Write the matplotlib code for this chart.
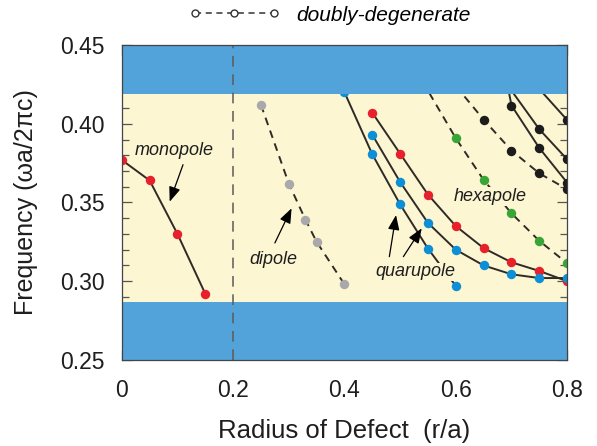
import matplotlib.pyplot as plt
from matplotlib.lines import Line2D

plt.rcParams['font.family'] = ['Liberation Sans', 'DejaVu Sans']

# band gap edges (blue = outside gap)
gap_lo = 0.2868
gap_hi = 0.419

# monopole (red, solid)
mono_x = [0.0, 0.05, 0.10, 0.15]
mono_y = [0.377, 0.364, 0.330, 0.292]

# dipole (gray, dashed)
dip_x = [0.25, 0.30, 0.33, 0.35, 0.40]
dip_y = [0.412, 0.362, 0.339, 0.325, 0.298]

# quadrupole branches
quad_red_x = [0.45, 0.50, 0.55, 0.60, 0.65, 0.70, 0.75, 0.80]
quad_red_y = [0.407, 0.381, 0.355, 0.335, 0.321, 0.312, 0.3065, 0.300]
quad_blue1_x = [0.45, 0.50, 0.55, 0.60, 0.65, 0.70, 0.75, 0.80]
quad_blue1_y = [0.393, 0.363, 0.337, 0.320, 0.310, 0.3044, 0.302, 0.302]
quad_blue2_x = [0.40, 0.45, 0.50, 0.55, 0.60]
quad_blue2_y = [0.420, 0.3806, 0.3488, 0.3207, 0.297]

# hexapole (green, dashed)
hex_x = [0.54, 0.60, 0.65, 0.70, 0.75, 0.80]
hex_y = [0.427, 0.3908, 0.3643, 0.3431, 0.3256, 0.3114]

# higher-order modes (black)
blk_dash_x = [0.60, 0.65, 0.70, 0.75, 0.80]
blk_dash_y = [0.424, 0.4026, 0.3830, 0.3685, 0.3584]
blk_s1_x = [0.69, 0.75, 0.80]
blk_s1_y = [0.426, 0.3965, 0.3774]
blk_s2_x = [0.69, 0.70, 0.75, 0.80]
blk_s2_y = [0.430, 0.4116, 0.3846, 0.3626]
blk_s3_x = [0.74, 0.80]
blk_s3_y = [0.426, 0.4024]

c_red = '#e8202b'
c_blue = '#0c8fd6'
c_green = '#3aa537'
c_gray = '#a9a9ab'
c_blk = '#1c1c1c'
c_line = '#2e2a26'
c_band = '#52a3da'
c_gap = '#fdf6d2'

fig, ax = plt.subplots(figsize=(5.97, 4.46), dpi=100)
fig.subplots_adjust(left=0.204, right=0.950, top=0.899, bottom=0.193)
ax.set_facecolor(c_gap)

ms = 6.8
kw = dict(markersize=ms, markeredgewidth=0, lw=1.4, color=c_line, zorder=2)

ax.plot(mono_x, mono_y, '-o', markerfacecolor=c_red, **kw)
ax.plot(dip_x, dip_y, '--o', markerfacecolor=c_gray, dashes=(4, 3), **kw)
ax.plot(quad_red_x, quad_red_y, '-o', markerfacecolor=c_red, **kw)
ax.plot(quad_blue1_x, quad_blue1_y, '-o', markerfacecolor=c_blue, **kw)
ax.plot(quad_blue2_x, quad_blue2_y, '-o', markerfacecolor=c_blue, **kw)
ax.plot(hex_x, hex_y, '--o', markerfacecolor=c_green, dashes=(4, 3), **kw)
ax.plot(blk_dash_x, blk_dash_y, '--o', markerfacecolor=c_blk, dashes=(4, 3), **kw)
ax.plot(blk_s1_x, blk_s1_y, '-o', markerfacecolor=c_blk, **kw)
ax.plot(blk_s2_x, blk_s2_y, '-o', markerfacecolor=c_blk, **kw)
ax.plot(blk_s3_x, blk_s3_y, '-o', markerfacecolor=c_blk, **kw)

# bands outside the gap
ax.axhspan(0.25, gap_lo, color=c_band, lw=0, zorder=3)
ax.axhspan(gap_hi, 0.45, color=c_band, lw=0, zorder=3)
ax.axvline(0.2, color='#5a5a5a', lw=1.1, ls=(0, (7, 5)), zorder=4)

# labels and arrows
tkw = dict(fontsize=13, style='italic', ha='center', va='center', color='#1e1e1e', zorder=6)
bkw = dict(facecolor=c_gap, edgecolor='none', pad=0.5)
akw = dict(arrowstyle='-|>,head_length=0.9,head_width=0.35', color='black', lw=0.9, shrinkA=0, shrinkB=0)
ax.text(0.0935, 0.3833, 'monopole', **tkw)
ax.annotate('', xy=(0.086, 0.3505), xytext=(0.110, 0.374), arrowprops=akw, zorder=6)
ax.text(0.273, 0.3135, 'dipole', **tkw)
ax.annotate('', xy=(0.305, 0.3463), xytext=(0.275, 0.3243), arrowprops=akw, zorder=6)
ax.text(0.6625, 0.3537, 'hexapole', bbox=bkw, **tkw)
ax.text(0.527, 0.306, 'quarupole', bbox=bkw, **tkw)
ax.annotate('', xy=(0.4926, 0.342), xytext=(0.4806, 0.3156), arrowprops=akw, zorder=6)
ax.annotate('', xy=(0.5388, 0.3336), xytext=(0.5058, 0.3156), arrowprops=akw, zorder=6)

ax.set_xlim(0, 0.8)
ax.set_ylim(0.25, 0.45)
ax.set_xticks([0, 0.2, 0.4, 0.6, 0.8])
ax.set_xticklabels(['0', '0.2', '0.4', '0.6', '0.8'])
ax.set_yticks([0.25, 0.30, 0.35, 0.40, 0.45])
ax.set_yticklabels(['0.25', '0.30', '0.35', '0.40', '0.45'])
ax.set_xticks([i * 0.05 for i in range(17)], minor=True)
ax.set_yticks([0.25 + i * 0.01 for i in range(21)], minor=True)
ax.tick_params(which='both', direction='in', top=True, right=True,
               color='#555555', width=0.9, labelsize=16.5, labelcolor='#1e1e1e')
ax.tick_params(which='major', length=7)
ax.tick_params(which='minor', length=5)
ax.tick_params(axis='x', pad=14)
ax.tick_params(axis='y', pad=12)
for s in ax.spines.values():
    s.set_color('#444444')
    s.set_linewidth(0.9)
    s.set_zorder(7)

ax.set_xlabel('Radius of Defect  (r/a)', fontsize=18.5, color='#1e1e1e', labelpad=12)
ax.set_ylabel('Frequency (\u03c9a/2\u03c0c)', fontsize=18, color='#1e1e1e', labelpad=16)

h = Line2D([], [], ls='--', dashes=(4, 3), color='#333333', lw=1.1, marker='o',
           markersize=5, markerfacecolor='white', markeredgecolor='#333333')
ax.legend(handles=[h], labels=['doubly-degenerate'], loc='center',
          bbox_to_anchor=(0.467, 1.095), frameon=False, numpoints=3, handlelength=4.4,
          handletextpad=0.8, prop={'style': 'italic', 'size': 15})

fig.savefig('out.png', dpi=100)
